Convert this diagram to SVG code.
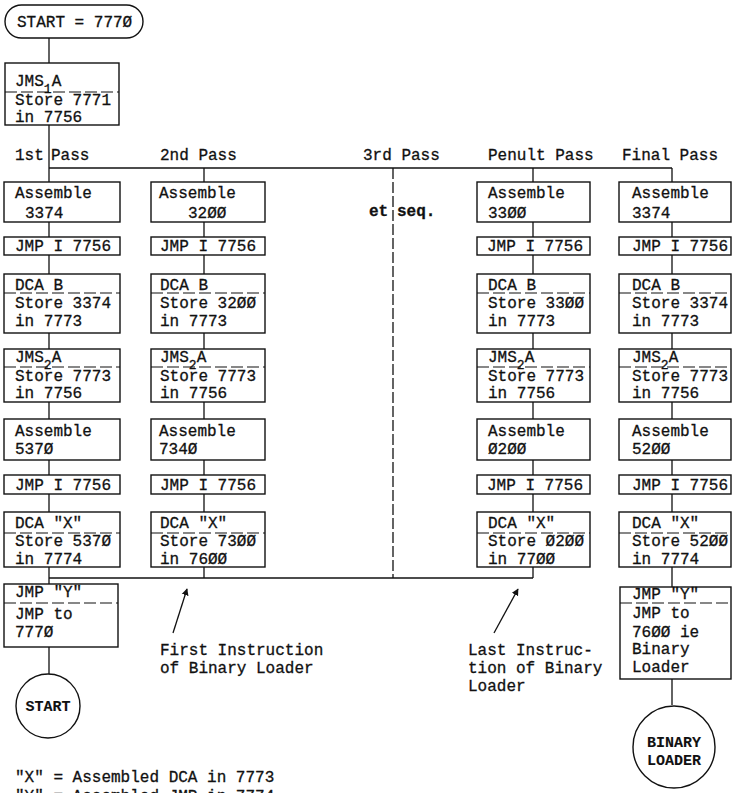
<svg xmlns="http://www.w3.org/2000/svg" width="732" height="793" viewBox="0 0 732 793">
<style>
text{font-family:"Liberation Mono","Courier New",monospace;font-size:16px;fill:#111;stroke:#111;stroke-width:0.3}
.b{font-weight:bold;font-size:15px;stroke-width:0.1}
.box{fill:none;stroke:#111;stroke-width:1.4}
.ln{fill:none;stroke:#111;stroke-width:1.3}
.dash{fill:none;stroke:#111;stroke-width:1.2;stroke-dasharray:12 4}
.dv{fill:none;stroke:#111;stroke-width:1.3;stroke-dasharray:11 3}
.sub{font-size:13px}
</style>
<defs>
<marker id="ah" viewBox="0 0 10 10" refX="9" refY="5" markerWidth="7" markerHeight="9" orient="auto" markerUnits="userSpaceOnUse"><path d="M0,0 L10,5 L0,10 z" fill="#111"/></marker>
</defs>
<rect width="732" height="793" fill="#fff"/>

<g id="connectors">
<path class="ln" d="M49,38V63 M49,125V182 M49,222V237 M49,255V274 M49,333V349 M49,402V419 M49,460V475 M49,494V512 M49,567V584 M49,647V674"/>
<path class="ln" d="M49,168H672"/>
<path class="ln" d="M204,168V182 M204,222V237 M204,255V274 M204,333V349 M204,402V419 M204,460V475 M204,494V512 M204,567V578"/>
<path class="ln" d="M533,168V182 M533,222V237 M533,255V274 M533,333V349 M533,402V419 M533,460V475 M533,494V512 M533,567V578"/>
<path class="ln" d="M672,168V182 M672,222V237 M672,255V274 M672,333V349 M672,402V419 M672,460V475 M672,494V512 M672,567V587 M672,679V705"/>
<path class="ln" d="M49,578H533"/>
<path class="dv" d="M393,168V578"/>
<line class="ln" x1="173" y1="633" x2="187" y2="589" marker-end="url(#ah)"/>
<line class="ln" x1="494" y1="633" x2="518" y2="589" marker-end="url(#ah)"/>
</g>

<g id="labels">
<text x="15" y="160">1st</text><text x="51" y="160">Pass</text>
<text x="160" y="160">2nd Pass</text>
<text x="363" y="160">3rd Pass</text>
<text x="488" y="160">Penult Pass</text>
<text x="622" y="160">Final Pass</text>
<text x="369" y="216" font-weight="bold" stroke-width="0.1">et</text>
<text x="397" y="216" font-weight="bold" stroke-width="0.1">seq.</text>
<text x="160" y="655">First Instruction</text>
<text x="160" y="673">of Binary Loader</text>
<text x="468" y="655">Last Instruc-</text>
<text x="468" y="673">tion of Binary</text>
<text x="468" y="691">Loader</text>
<text x="15" y="782">"X" = Assembled DCA in 7773</text>
<text x="15" y="801">"Y" = Assembled JMP in 7774</text>
</g>

<g id="start-term">
<rect class="box" x="5" y="5" width="138" height="33" rx="16.5"/>
<text x="17" y="27">START = 777Ø</text>
</g>

<g id="jms1">
<rect class="box" x="5" y="63" width="114" height="62"/>
<text x="15" y="86">JMS<tspan class="sub" dy="7">1</tspan><tspan dy="-7">A</tspan></text>
<line class="dash" x1="5" y1="92" x2="119" y2="92"/>
<text x="15" y="105">Store 7771</text>
<text x="15" y="122">in 7756</text>
</g>

<!-- Column 1 -->
<g id="c1-asm1"><rect class="box" x="4" y="182" width="116" height="40"/><text x="15" y="198">Assemble</text><text x="25" y="218">3374</text></g>
<g id="c1-jmp1"><rect class="box" x="4" y="237" width="116" height="18"/><text x="15" y="251">JMP I 7756</text></g>
<g id="c1-dca"><rect class="box" x="4" y="274" width="116" height="59"/><text x="15" y="290">DCA B</text><line class="dash" x1="4" y1="293" x2="120" y2="293"/><text x="15" y="308">Store 3374</text><text x="15" y="326">in 7773</text></g>
<g id="c1-jms2"><rect class="box" x="4" y="349" width="116" height="53"/><text x="15" y="362">JMS<tspan class="sub" dy="7">2</tspan><tspan dy="-7">A</tspan></text><line class="dash" x1="4" y1="367" x2="120" y2="367"/><text x="15" y="381">Store 7773</text><text x="15" y="398">in 7756</text></g>
<g id="c1-asm2"><rect class="box" x="4" y="419" width="116" height="41"/><text x="15" y="436">Assemble</text><text x="15" y="454">537Ø</text></g>
<g id="c1-jmp2"><rect class="box" x="4" y="475" width="116" height="19"/><text x="15" y="490">JMP I 7756</text></g>
<g id="c1-dcax"><rect class="box" x="4" y="512" width="116" height="55"/><text x="15" y="528">DCA "X"</text><line class="dash" x1="4" y1="533" x2="120" y2="533"/><text x="15" y="546">Store 537Ø</text><text x="15" y="564">in 7774</text></g>
<g id="c1-jmpy"><rect class="box" x="4" y="584" width="114" height="63"/><text x="15" y="597">JMP "Y"</text><line class="dash" x1="4" y1="603" x2="118" y2="603"/><text x="15" y="619">JMP to</text><text x="15" y="637">777Ø</text></g>
<g id="start-circle"><circle class="box" cx="48" cy="706" r="32"/><text class="b" x="48" y="711" text-anchor="middle">START</text></g>

<!-- Column 2 -->
<g id="c2-asm1"><rect class="box" x="151" y="182" width="114" height="40"/><text x="159" y="198">Assemble</text><text x="188" y="218">32ØØ</text></g>
<g id="c2-jmp1"><rect class="box" x="151" y="237" width="114" height="18"/><text x="160" y="251">JMP I 7756</text></g>
<g id="c2-dca"><rect class="box" x="151" y="274" width="114" height="59"/><text x="160" y="290">DCA B</text><line class="dash" x1="151" y1="293" x2="265" y2="293"/><text x="160" y="308">Store 32ØØ</text><text x="160" y="326">in 7773</text></g>
<g id="c2-jms2"><rect class="box" x="151" y="349" width="114" height="53"/><text x="160" y="362">JMS<tspan class="sub" dy="7">2</tspan><tspan dy="-7">A</tspan></text><line class="dash" x1="151" y1="367" x2="265" y2="367"/><text x="160" y="381">Store 7773</text><text x="160" y="398">in 7756</text></g>
<g id="c2-asm2"><rect class="box" x="151" y="419" width="114" height="41"/><text x="159" y="436">Assemble</text><text x="159" y="454">734Ø</text></g>
<g id="c2-jmp2"><rect class="box" x="151" y="475" width="114" height="19"/><text x="160" y="490">JMP I 7756</text></g>
<g id="c2-dcax"><rect class="box" x="151" y="512" width="114" height="55"/><text x="160" y="528">DCA "X"</text><line class="dash" x1="151" y1="533" x2="265" y2="533"/><text x="160" y="546">Store 73ØØ</text><text x="160" y="564">in 76ØØ</text></g>

<!-- Column 4 (Penult) -->
<g id="c4-asm1"><rect class="box" x="477" y="182" width="113" height="40"/><text x="488" y="198">Assemble</text><text x="488" y="218">33ØØ</text></g>
<g id="c4-jmp1"><rect class="box" x="477" y="237" width="113" height="18"/><text x="487" y="251">JMP I 7756</text></g>
<g id="c4-dca"><rect class="box" x="477" y="274" width="113" height="59"/><text x="488" y="290">DCA B</text><line class="dash" x1="477" y1="293" x2="590" y2="293"/><text x="488" y="308">Store 33ØØ</text><text x="488" y="326">in 7773</text></g>
<g id="c4-jms2"><rect class="box" x="477" y="349" width="113" height="53"/><text x="488" y="362">JMS<tspan class="sub" dy="7">2</tspan><tspan dy="-7">A</tspan></text><line class="dash" x1="477" y1="367" x2="590" y2="367"/><text x="488" y="381">Store 7773</text><text x="488" y="398">in 7756</text></g>
<g id="c4-asm2"><rect class="box" x="477" y="419" width="113" height="41"/><text x="488" y="436">Assemble</text><text x="488" y="454">Ø2ØØ</text></g>
<g id="c4-jmp2"><rect class="box" x="477" y="475" width="113" height="19"/><text x="487" y="490">JMP I 7756</text></g>
<g id="c4-dcax"><rect class="box" x="477" y="512" width="113" height="55"/><text x="488" y="528">DCA "X"</text><line class="dash" x1="477" y1="533" x2="590" y2="533"/><text x="488" y="546">Store Ø2ØØ</text><text x="488" y="564">in 77ØØ</text></g>

<!-- Column 5 (Final) -->
<g id="c5-asm1"><rect class="box" x="619" y="182" width="112" height="40"/><text x="632" y="198">Assemble</text><text x="632" y="218">3374</text></g>
<g id="c5-jmp1"><rect class="box" x="619" y="237" width="112" height="18"/><text x="632" y="251">JMP I 7756</text></g>
<g id="c5-dca"><rect class="box" x="619" y="274" width="112" height="59"/><text x="632" y="290">DCA B</text><line class="dash" x1="619" y1="293" x2="731" y2="293"/><text x="632" y="308">Store 3374</text><text x="632" y="326">in 7773</text></g>
<g id="c5-jms2"><rect class="box" x="619" y="349" width="112" height="53"/><text x="632" y="362">JMS<tspan class="sub" dy="7">2</tspan><tspan dy="-7">A</tspan></text><line class="dash" x1="619" y1="367" x2="731" y2="367"/><text x="632" y="381">Store 7773</text><text x="632" y="398">in 7756</text></g>
<g id="c5-asm2"><rect class="box" x="619" y="419" width="112" height="41"/><text x="632" y="436">Assemble</text><text x="632" y="454">52ØØ</text></g>
<g id="c5-jmp2"><rect class="box" x="619" y="475" width="112" height="19"/><text x="632" y="490">JMP I 7756</text></g>
<g id="c5-dcax"><rect class="box" x="619" y="512" width="112" height="55"/><text x="632" y="528">DCA "X"</text><line class="dash" x1="619" y1="533" x2="731" y2="533"/><text x="632" y="546">Store 52ØØ</text><text x="632" y="564">in 7774</text></g>
<g id="c5-jmpy"><rect class="box" x="620" y="587" width="111" height="92"/><text x="632" y="599">JMP "Y"</text><line class="dash" x1="620" y1="603" x2="731" y2="603"/><text x="632" y="618">JMP to</text><text x="632" y="637">76ØØ ie</text><text x="632" y="654">Binary</text><text x="632" y="672">Loader</text></g>
<g id="binary-loader"><circle class="box" cx="674" cy="747" r="41"/><text class="b" x="674" y="747" text-anchor="middle">BINARY</text><text class="b" x="674" y="765" text-anchor="middle">LOADER</text></g>
</svg>
